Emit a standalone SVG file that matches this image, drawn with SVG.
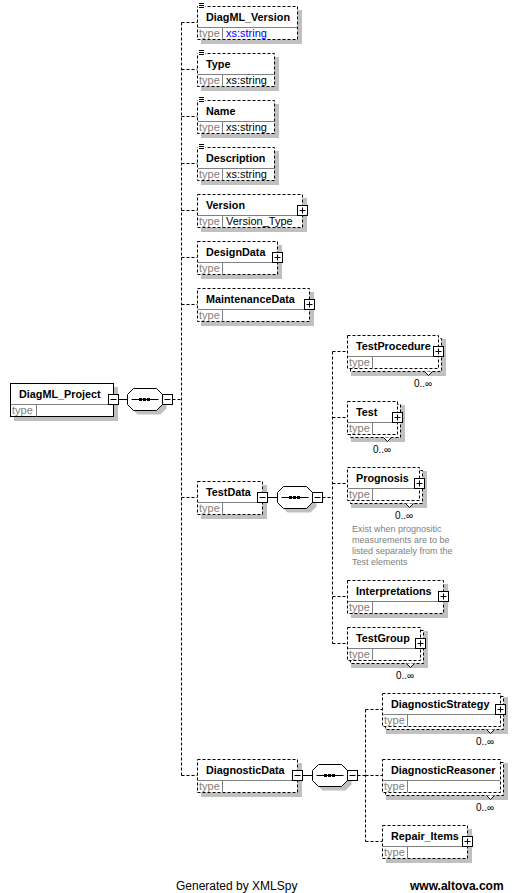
<svg xmlns="http://www.w3.org/2000/svg" width="517" height="893" viewBox="0 0 517 893">
<style>
.bg{fill:#fff}
.sh{fill:#c0c0c0}
.box{fill:#fff;stroke:#000;stroke-width:1;stroke-dasharray:3,2}
.sol{fill:#fff;stroke:#000;stroke-width:1}
.sep{stroke:#808080;stroke-width:1}
.pm{fill:#fff;stroke:#000;stroke-width:1}
.ln{stroke:#000;stroke-width:1;fill:none}
.dash{stroke:#000;stroke-width:1;fill:none;stroke-dasharray:3,2}
.name{font-family:"Liberation Sans",Arial,sans-serif;font-size:10.8px;font-weight:bold;fill:#000}
.type{font-family:"Liberation Sans",Arial,sans-serif;font-size:11px;fill:#808080}
.val{font-family:"Liberation Sans",Arial,sans-serif;font-size:11px;fill:#000}
.link{fill:#0000ff}
.occ{font-family:"Liberation Sans",Arial,sans-serif;font-size:10px;fill:#000;text-anchor:middle}
.note{font-family:"Liberation Sans",Arial,sans-serif;font-size:9px;fill:#808080}
.foot{font-family:"Liberation Sans",Arial,sans-serif;font-size:12px;fill:#000}
.notch{fill:#fff;stroke:#000;stroke-width:1}
</style>
<rect class="bg" x="0" y="0" width="517" height="893"/>

<g id="connectors">
<line class="ln" x1="118.5" y1="399.5" x2="127.5" y2="399.5"/>
<line class="dash" x1="172.5" y1="399.5" x2="181.5" y2="399.5"/>
<line class="dash" x1="181.5" y1="22.5" x2="181.5" y2="775.5"/>
<line class="dash" x1="181.5" y1="22.5" x2="197.5" y2="22.5"/>
<line class="dash" x1="181.5" y1="69.5" x2="197.5" y2="69.5"/>
<line class="dash" x1="181.5" y1="116.5" x2="197.5" y2="116.5"/>
<line class="dash" x1="181.5" y1="163.5" x2="197.5" y2="163.5"/>
<line class="dash" x1="181.5" y1="210.5" x2="197.5" y2="210.5"/>
<line class="dash" x1="181.5" y1="257.5" x2="197.5" y2="257.5"/>
<line class="dash" x1="181.5" y1="304.5" x2="197.5" y2="304.5"/>
<line class="dash" x1="181.5" y1="497.5" x2="197.5" y2="497.5"/>
<line class="dash" x1="181.5" y1="775.5" x2="197.5" y2="775.5"/>
<line class="ln" x1="267.5" y1="497.5" x2="277.5" y2="497.5"/>
<line class="dash" x1="322.5" y1="497.5" x2="332.5" y2="497.5"/>
<line class="dash" x1="332.5" y1="351.5" x2="332.5" y2="643.5"/>
<line class="dash" x1="332.5" y1="351.5" x2="347.5" y2="351.5"/>
<line class="dash" x1="332.5" y1="417.5" x2="347.5" y2="417.5"/>
<line class="dash" x1="332.5" y1="483.5" x2="347.5" y2="483.5"/>
<line class="dash" x1="332.5" y1="596.5" x2="347.5" y2="596.5"/>
<line class="dash" x1="332.5" y1="643.5" x2="347.5" y2="643.5"/>
<line class="ln" x1="302.5" y1="775.5" x2="312.5" y2="775.5"/>
<line class="dash" x1="357.5" y1="775.5" x2="365.5" y2="775.5"/>
<line class="dash" x1="365.5" y1="709.5" x2="365.5" y2="841.5"/>
<line class="dash" x1="365.5" y1="709.5" x2="382.5" y2="709.5"/>
<line class="dash" x1="365.5" y1="775.5" x2="382.5" y2="775.5"/>
<line class="dash" x1="365.5" y1="841.5" x2="382.5" y2="841.5"/>
</g>

<g id="DiagML_Project">
<rect class="sh" x="14" y="387" width="104" height="34"/>
<rect class="sol" x="10.5" y="383.5" width="103" height="33"/>
<line class="sep" x1="11" y1="404.5" x2="113" y2="404.5"/>
<line class="sep" x1="36.5" y1="404.5" x2="36.5" y2="416.5"/>
<text class="name" x="19" y="398">DiagML_Project</text>
<text class="type" x="12" y="414">type</text>
<rect class="pm" x="108.5" y="394.5" width="10" height="10"/>
<line class="ln" x1="110.5" y1="399.5" x2="116.5" y2="399.5"/>
</g>

<g id="seq_root">
<polygon class="sh" points="137.5,392.5 160.5,392.5 166.5,398.5 166.5,408.5 160.5,414.5 137.5,414.5 131.5,408.5 131.5,398.5"/>
<polygon class="sol" points="133.5,388.5 156.5,388.5 162.5,394.5 162.5,404.5 156.5,410.5 133.5,410.5 127.5,404.5 127.5,394.5"/>
<line class="ln" x1="131.5" y1="399.5" x2="158.5" y2="399.5"/>
<rect x="139" y="398" width="3" height="3"/><rect x="143" y="398" width="3" height="3"/><rect x="147" y="398" width="3" height="3"/>
<rect class="pm" x="162.5" y="394.5" width="10" height="10"/>
<line class="ln" x1="164.5" y1="399.5" x2="170.5" y2="399.5"/>
</g>

<g id="DiagML_Version">
<rect class="sh" x="201" y="10" width="101" height="34"/>
<rect class="box" x="197.5" y="6.5" width="100" height="33"/>
<line class="sep" x1="198" y1="27.5" x2="297" y2="27.5"/>
<line class="sep" x1="222.5" y1="27.5" x2="222.5" y2="39.5"/>
<text class="name" x="206" y="21">DiagML_Version</text>
<text class="type" x="199" y="37">type</text>
<text class="val link" x="226" y="37">xs:string</text>
<rect class="bg" x="198" y="2" width="7" height="7"/>
<path class="ln" d="M199 3.5H204M199 5.5H204M199 7.5H204"/>
</g>

<g id="Type">
<rect class="sh" x="201" y="57" width="78" height="34"/>
<rect class="box" x="197.5" y="53.5" width="77" height="33"/>
<line class="sep" x1="198" y1="74.5" x2="274" y2="74.5"/>
<line class="sep" x1="222.5" y1="74.5" x2="222.5" y2="86.5"/>
<text class="name" x="206" y="68">Type</text>
<text class="type" x="199" y="84">type</text>
<text class="val" x="226" y="84">xs:string</text>
<rect class="bg" x="198" y="49" width="7" height="7"/>
<path class="ln" d="M199 50.5H204M199 52.5H204M199 54.5H204"/>
</g>

<g id="Name">
<rect class="sh" x="201" y="104" width="78" height="34"/>
<rect class="box" x="197.5" y="100.5" width="77" height="33"/>
<line class="sep" x1="198" y1="121.5" x2="274" y2="121.5"/>
<line class="sep" x1="222.5" y1="121.5" x2="222.5" y2="133.5"/>
<text class="name" x="206" y="115">Name</text>
<text class="type" x="199" y="131">type</text>
<text class="val" x="226" y="131">xs:string</text>
<rect class="bg" x="198" y="96" width="7" height="7"/>
<path class="ln" d="M199 97.5H204M199 99.5H204M199 101.5H204"/>
</g>

<g id="Description">
<rect class="sh" x="201" y="151" width="78" height="34"/>
<rect class="box" x="197.5" y="147.5" width="77" height="33"/>
<line class="sep" x1="198" y1="168.5" x2="274" y2="168.5"/>
<line class="sep" x1="222.5" y1="168.5" x2="222.5" y2="180.5"/>
<text class="name" x="206" y="162">Description</text>
<text class="type" x="199" y="178">type</text>
<text class="val" x="226" y="178">xs:string</text>
<rect class="bg" x="198" y="143" width="7" height="7"/>
<path class="ln" d="M199 144.5H204M199 146.5H204M199 148.5H204"/>
</g>

<g id="Version">
<rect class="sh" x="201" y="198" width="106" height="34"/>
<rect class="box" x="197.5" y="194.5" width="105" height="33"/>
<line class="sep" x1="198" y1="215.5" x2="302" y2="215.5"/>
<line class="sep" x1="222.5" y1="215.5" x2="222.5" y2="227.5"/>
<text class="name" x="206" y="209">Version</text>
<text class="type" x="199" y="225">type</text>
<text class="val" x="226" y="225">Version_Type</text>
<rect class="pm" x="297.5" y="205.5" width="10" height="10"/>
<path class="ln" d="M299.5 210.5H305.5M302.5 207.5V213.5"/>
</g>

<g id="DesignData">
<rect class="sh" x="201" y="245" width="81" height="34"/>
<rect class="box" x="197.5" y="241.5" width="80" height="33"/>
<line class="sep" x1="198" y1="262.5" x2="277" y2="262.5"/>
<line class="sep" x1="222.5" y1="262.5" x2="222.5" y2="274.5"/>
<text class="name" x="206" y="256">DesignData</text>
<text class="type" x="199" y="272">type</text>
<rect class="pm" x="272.5" y="252.5" width="10" height="10"/>
<path class="ln" d="M274.5 257.5H280.5M277.5 254.5V260.5"/>
</g>

<g id="MaintenanceData">
<rect class="sh" x="201" y="292" width="113" height="34"/>
<rect class="box" x="197.5" y="288.5" width="112" height="33"/>
<line class="sep" x1="198" y1="309.5" x2="309" y2="309.5"/>
<line class="sep" x1="222.5" y1="309.5" x2="222.5" y2="321.5"/>
<text class="name" x="206" y="303">MaintenanceData</text>
<text class="type" x="199" y="319">type</text>
<rect class="pm" x="304.5" y="299.5" width="10" height="10"/>
<path class="ln" d="M306.5 304.5H312.5M309.5 301.5V307.5"/>
</g>

<g id="TestData">
<rect class="sh" x="201" y="485" width="66" height="34"/>
<rect class="box" x="197.5" y="481.5" width="65" height="33"/>
<line class="sep" x1="198" y1="502.5" x2="262" y2="502.5"/>
<line class="sep" x1="222.5" y1="502.5" x2="222.5" y2="514.5"/>
<text class="name" x="206" y="496">TestData</text>
<text class="type" x="199" y="512">type</text>
<rect class="pm" x="257.5" y="492.5" width="10" height="10"/>
<line class="ln" x1="259.5" y1="497.5" x2="265.5" y2="497.5"/>
</g>

<g id="seq_TestData">
<polygon class="sh" points="287.5,490.5 310.5,490.5 316.5,496.5 316.5,506.5 310.5,512.5 287.5,512.5 281.5,506.5 281.5,496.5"/>
<polygon class="sol" points="283.5,486.5 306.5,486.5 312.5,492.5 312.5,502.5 306.5,508.5 283.5,508.5 277.5,502.5 277.5,492.5"/>
<line class="ln" x1="281.5" y1="497.5" x2="308.5" y2="497.5"/>
<rect x="289" y="496" width="3" height="3"/><rect x="293" y="496" width="3" height="3"/><rect x="297" y="496" width="3" height="3"/>
<rect class="pm" x="312.5" y="492.5" width="10" height="10"/>
<line class="ln" x1="314.5" y1="497.5" x2="320.5" y2="497.5"/>
</g>

<g id="TestProcedure">
<rect class="sh" x="351" y="339" width="95" height="37"/>
<rect class="box" x="350.5" y="338.5" width="91" height="33"/>
<rect class="box" x="347.5" y="335.5" width="91" height="33"/>
<line class="sep" x1="348" y1="356.5" x2="438" y2="356.5"/>
<line class="sep" x1="372.5" y1="356.5" x2="372.5" y2="368.5"/>
<text class="name" x="356" y="350">TestProcedure</text>
<text class="type" x="349" y="366">type</text>
<rect class="pm" x="433.5" y="346.5" width="10" height="10"/>
<path class="ln" d="M435.5 351.5H441.5M438.5 348.5V354.5"/>
<polyline class="notch" points="424.5,371.5 428.5,375.5 432.5,371.5"/>
<text class="occ" x="423" y="387">0..∞</text>
</g>

<g id="Test">
<rect class="sh" x="351" y="405" width="54" height="37"/>
<rect class="box" x="350.5" y="404.5" width="50" height="33"/>
<rect class="box" x="347.5" y="401.5" width="50" height="33"/>
<line class="sep" x1="348" y1="422.5" x2="397" y2="422.5"/>
<line class="sep" x1="372.5" y1="422.5" x2="372.5" y2="434.5"/>
<text class="name" x="356" y="416">Test</text>
<text class="type" x="349" y="432">type</text>
<rect class="pm" x="392.5" y="412.5" width="10" height="10"/>
<path class="ln" d="M394.5 417.5H400.5M397.5 414.5V420.5"/>
<polyline class="notch" points="383.5,437.5 387.5,441.5 391.5,437.5"/>
<text class="occ" x="382" y="453">0..∞</text>
</g>

<g id="Prognosis">
<rect class="sh" x="351" y="471" width="76" height="37"/>
<rect class="box" x="350.5" y="470.5" width="72" height="33"/>
<rect class="box" x="347.5" y="467.5" width="72" height="33"/>
<line class="sep" x1="348" y1="488.5" x2="419" y2="488.5"/>
<line class="sep" x1="372.5" y1="488.5" x2="372.5" y2="500.5"/>
<text class="name" x="356" y="482">Prognosis</text>
<text class="type" x="349" y="498">type</text>
<rect class="pm" x="414.5" y="478.5" width="10" height="10"/>
<path class="ln" d="M416.5 483.5H422.5M419.5 480.5V486.5"/>
<polyline class="notch" points="405.5,503.5 409.5,507.5 413.5,503.5"/>
<text class="occ" x="404" y="519">0..∞</text>
<text class="note" x="352" y="532">Exist when prognositic</text>
<text class="note" x="352" y="543">measurements are to be</text>
<text class="note" x="352" y="554">listed separately from the</text>
<text class="note" x="352" y="565">Test elements</text>
</g>

<g id="Interpretations">
<rect class="sh" x="351" y="584" width="97" height="34"/>
<rect class="box" x="347.5" y="580.5" width="96" height="33"/>
<line class="sep" x1="348" y1="601.5" x2="443" y2="601.5"/>
<line class="sep" x1="372.5" y1="601.5" x2="372.5" y2="613.5"/>
<text class="name" x="356" y="595">Interpretations</text>
<text class="type" x="349" y="611">type</text>
<rect class="pm" x="438.5" y="591.5" width="10" height="10"/>
<path class="ln" d="M440.5 596.5H446.5M443.5 593.5V599.5"/>
</g>

<g id="TestGroup">
<rect class="sh" x="351" y="631" width="77" height="37"/>
<rect class="box" x="350.5" y="630.5" width="73" height="33"/>
<rect class="box" x="347.5" y="627.5" width="73" height="33"/>
<line class="sep" x1="348" y1="648.5" x2="420" y2="648.5"/>
<line class="sep" x1="372.5" y1="648.5" x2="372.5" y2="660.5"/>
<text class="name" x="356" y="642">TestGroup</text>
<text class="type" x="349" y="658">type</text>
<rect class="pm" x="415.5" y="638.5" width="10" height="10"/>
<path class="ln" d="M417.5 643.5H423.5M420.5 640.5V646.5"/>
<polyline class="notch" points="406.5,663.5 410.5,667.5 414.5,663.5"/>
<text class="occ" x="405" y="679">0..∞</text>
</g>

<g id="DiagnosticData">
<rect class="sh" x="201" y="763" width="101" height="34"/>
<rect class="box" x="197.5" y="759.5" width="100" height="33"/>
<line class="sep" x1="198" y1="780.5" x2="297" y2="780.5"/>
<line class="sep" x1="222.5" y1="780.5" x2="222.5" y2="792.5"/>
<text class="name" x="206" y="774">DiagnosticData</text>
<text class="type" x="199" y="790">type</text>
<rect class="pm" x="292.5" y="770.5" width="10" height="10"/>
<line class="ln" x1="294.5" y1="775.5" x2="300.5" y2="775.5"/>
</g>

<g id="seq_DiagnosticData">
<polygon class="sh" points="322.5,768.5 345.5,768.5 351.5,774.5 351.5,784.5 345.5,790.5 322.5,790.5 316.5,784.5 316.5,774.5"/>
<polygon class="sol" points="318.5,764.5 341.5,764.5 347.5,770.5 347.5,780.5 341.5,786.5 318.5,786.5 312.5,780.5 312.5,770.5"/>
<line class="ln" x1="316.5" y1="775.5" x2="343.5" y2="775.5"/>
<rect x="324" y="774" width="3" height="3"/><rect x="328" y="774" width="3" height="3"/><rect x="332" y="774" width="3" height="3"/>
<rect class="pm" x="347.5" y="770.5" width="10" height="10"/>
<line class="ln" x1="349.5" y1="775.5" x2="355.5" y2="775.5"/>
</g>

<g id="DiagnosticStrategy">
<rect class="sh" x="386" y="697" width="122" height="37"/>
<rect class="box" x="385.5" y="696.5" width="118" height="33"/>
<rect class="box" x="382.5" y="693.5" width="118" height="33"/>
<line class="sep" x1="383" y1="714.5" x2="500" y2="714.5"/>
<line class="sep" x1="407.5" y1="714.5" x2="407.5" y2="726.5"/>
<text class="name" x="391" y="708">DiagnosticStrategy</text>
<text class="type" x="384" y="724">type</text>
<rect class="pm" x="495.5" y="704.5" width="10" height="10"/>
<path class="ln" d="M497.5 709.5H503.5M500.5 706.5V712.5"/>
<polyline class="notch" points="486.5,729.5 490.5,733.5 494.5,729.5"/>
<text class="occ" x="485" y="745">0..∞</text>
</g>

<g id="DiagnosticReasoner">
<rect class="sh" x="386" y="763" width="122" height="37"/>
<rect class="box" x="385.5" y="762.5" width="118" height="33"/>
<rect class="box" x="382.5" y="759.5" width="118" height="33"/>
<line class="sep" x1="383" y1="780.5" x2="500" y2="780.5"/>
<line class="sep" x1="407.5" y1="780.5" x2="407.5" y2="792.5"/>
<text class="name" x="391" y="774">DiagnosticReasoner</text>
<text class="type" x="384" y="790">type</text>
<polyline class="notch" points="486.5,795.5 490.5,799.5 494.5,795.5"/>
<text class="occ" x="485" y="811">0..∞</text>
</g>

<g id="Repair_Items">
<rect class="sh" x="386" y="829" width="86" height="34"/>
<rect class="box" x="382.5" y="825.5" width="85" height="33"/>
<line class="sep" x1="383" y1="846.5" x2="467" y2="846.5"/>
<line class="sep" x1="407.5" y1="846.5" x2="407.5" y2="858.5"/>
<text class="name" x="391" y="840">Repair_Items</text>
<text class="type" x="384" y="856">type</text>
<rect class="pm" x="462.5" y="836.5" width="10" height="10"/>
<path class="ln" d="M464.5 841.5H470.5M467.5 838.5V844.5"/>
</g>

<g id="footer">
<text class="foot" x="176" y="890">Generated by XMLSpy</text>
<text class="foot" x="410" y="890" font-weight="bold">www.altova.com</text>
</g>
</svg>
